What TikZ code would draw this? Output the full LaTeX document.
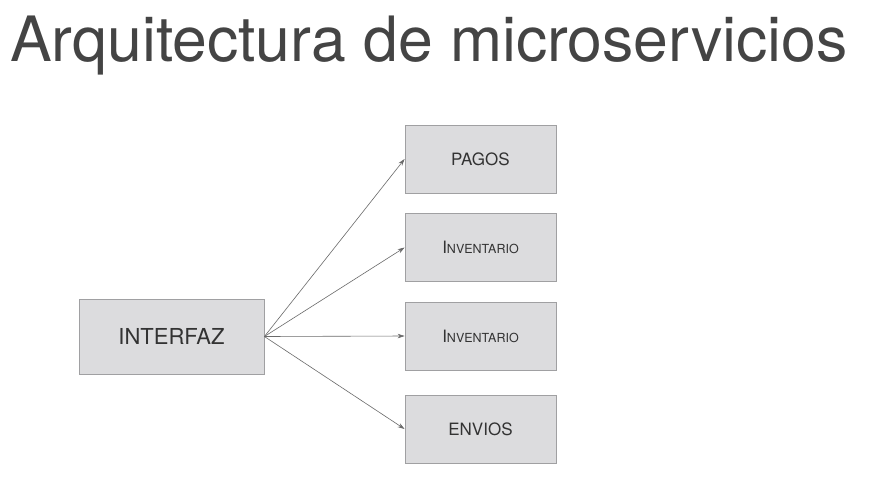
\documentclass[tikz,border=0pt]{standalone}
\usepackage{fontspec}
\setmainfont{TeX Gyre Heros}
\usetikzlibrary{arrows.meta}
\definecolor{boxfill}{HTML}{DCDCDE}
\definecolor{boxline}{HTML}{A0A0A2}
\definecolor{txt}{HTML}{333333}
\definecolor{ttl}{HTML}{444444}
\definecolor{arr}{HTML}{6A6A6A}
\tikzset{
  svc/.style={draw=boxline, fill=boxfill, line width=0.8pt, minimum width=151pt, minimum height=68pt, inner sep=0pt, text=txt, font=\fontsize{17}{20}\selectfont},
  conn/.style={draw=arr, line width=0.6pt, -{Stealth[length=7pt,width=4.5pt]}}
}
\newcommand{\invtext}{{\fontsize{17}{20}\selectfont I}{\fontsize{12.5}{15}\selectfont NVENTARIO}}
\begin{document}
\begin{tikzpicture}[x=1pt,y=-1pt]
\useasboundingbox[fill=white] (0,0) rectangle (870,480);
\node[anchor=base west, inner sep=0pt, text=ttl, font=\fontsize{62.5}{70}\selectfont] (title) at (10,61) {Arquitectura de microservicios};
\node[svc] (pagos) at (480.5,159) {PAGOS};
\node[svc] (inv1) at (480.5,247.5) {\invtext};
\node[svc] (inv2) at (480.5,336) {\invtext};
\node[svc] (envios) at (480.5,429) {ENVIOS};
\node[svc, minimum width=185pt, minimum height=75pt, font=\fontsize{22}{26}\selectfont] (interfaz) at (171.5,336.5) {INTERFAZ};
\draw[conn] (interfaz.east) -- (pagos.west);
\draw[conn] (interfaz.east) -- (inv1.west);
\draw[conn] (interfaz.east) -- (inv2.west);
\draw[conn] (interfaz.east) -- (envios.west);
\end{tikzpicture}
\end{document}
